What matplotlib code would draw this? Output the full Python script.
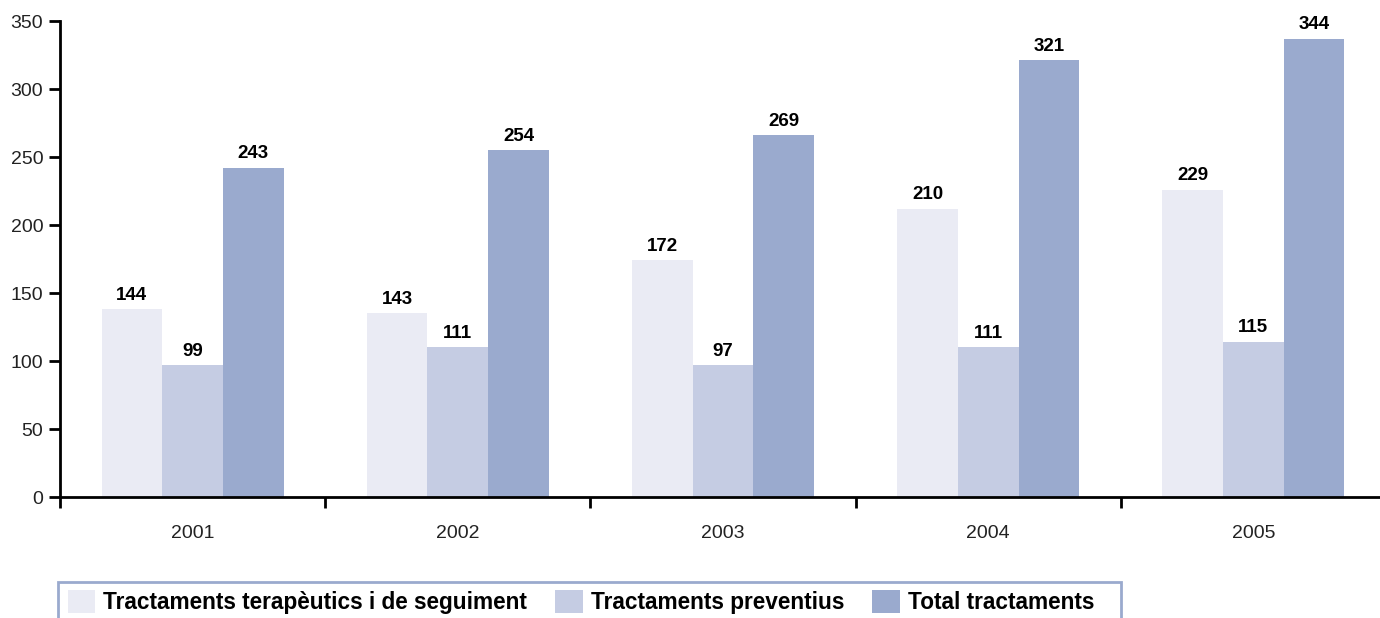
import matplotlib.pyplot as plt
from matplotlib.patches import Rectangle
import numpy as np

plt.rcParams['font.family'] = ['Liberation Sans', 'DejaVu Sans']

years = ['2001', '2002', '2003', '2004', '2005']
series = ['Tractaments terapèutics i de seguiment', 'Tractaments preventius', 'Total tractaments']
colors = ['#eaebf4', '#c5cce3', '#9aaace']

# bar heights as drawn in the picture
terapeutics = [138, 135, 174, 212, 226]
preventius = [97, 110, 97, 110, 114]
total = [242, 255, 266, 321, 337]

# the printed labels (they do not quite match the bars)
terapeutics_lbl = [144, 143, 172, 210, 229]
preventius_lbl = [99, 111, 97, 111, 115]
total_lbl = [243, 254, 269, 321, 344]

heights = [terapeutics, preventius, total]
labels = [terapeutics_lbl, preventius_lbl, total_lbl]

W, H = 1380, 618
fig = plt.figure(figsize=(W / 100, H / 100), dpi=100)
ax = fig.add_axes([60 / W, 1 - 497 / H, 1326 / W, 476 / H])

x = np.arange(len(years))
w = 0.229
for i, (h, lbl) in enumerate(zip(heights, labels)):
    pos = x + (i - 1) * w
    ax.bar(pos, h, width=w, color=colors[i], linewidth=0)
    for px, py, t in zip(pos, h, lbl):
        ax.annotate(str(t), (px, py), xytext=(0, 4), textcoords='offset points',
                    ha='center', va='bottom', fontsize=13.5, fontweight='bold')

ax.set_xlim(-0.5, len(years) - 0.5)
ax.set_ylim(0, 350)
ax.set_yticks(range(0, 351, 50))
ax.set_xticks(np.arange(len(years) + 1) - 0.5)
ax.set_xticklabels([])
ax.set_xticks(x, minor=True)
ax.set_xticklabels(years, minor=True)
ax.tick_params(axis='x', which='minor', length=0, pad=20, labelsize=14, colors='#222222')
ax.tick_params(axis='x', which='major', length=8, width=2, direction='out')
ax.tick_params(axis='y', length=8, width=2, direction='out', labelsize=14, pad=4, labelcolor='#222222')
for s in ['top', 'right']:
    ax.spines[s].set_visible(False)
for s in ['left', 'bottom']:
    ax.spines[s].set_linewidth(2)

# legend: entries without frame, box drawn separately (fixed width in the original)
handles = [Rectangle((0, 0), 1, 1, facecolor=c, edgecolor='none') for c in colors]
leg = fig.legend(handles, series, loc='upper left', ncol=3,
                 bbox_to_anchor=(68 / W, 1 - 590 / H), borderaxespad=0, borderpad=0,
                 frameon=False, prop={'size': 16.3, 'weight': 'bold'},
                 handlelength=1.2, handleheight=1.2, handletextpad=0.36, columnspacing=1.25)
fig.patches.append(Rectangle((58 / W, -0.05), (1121 - 58) / W, 0.05 + 1 - 582 / H,
                             transform=fig.transFigure, facecolor='none',
                             edgecolor='#9aaace', linewidth=2))

fig.savefig('out.png', dpi=100)
